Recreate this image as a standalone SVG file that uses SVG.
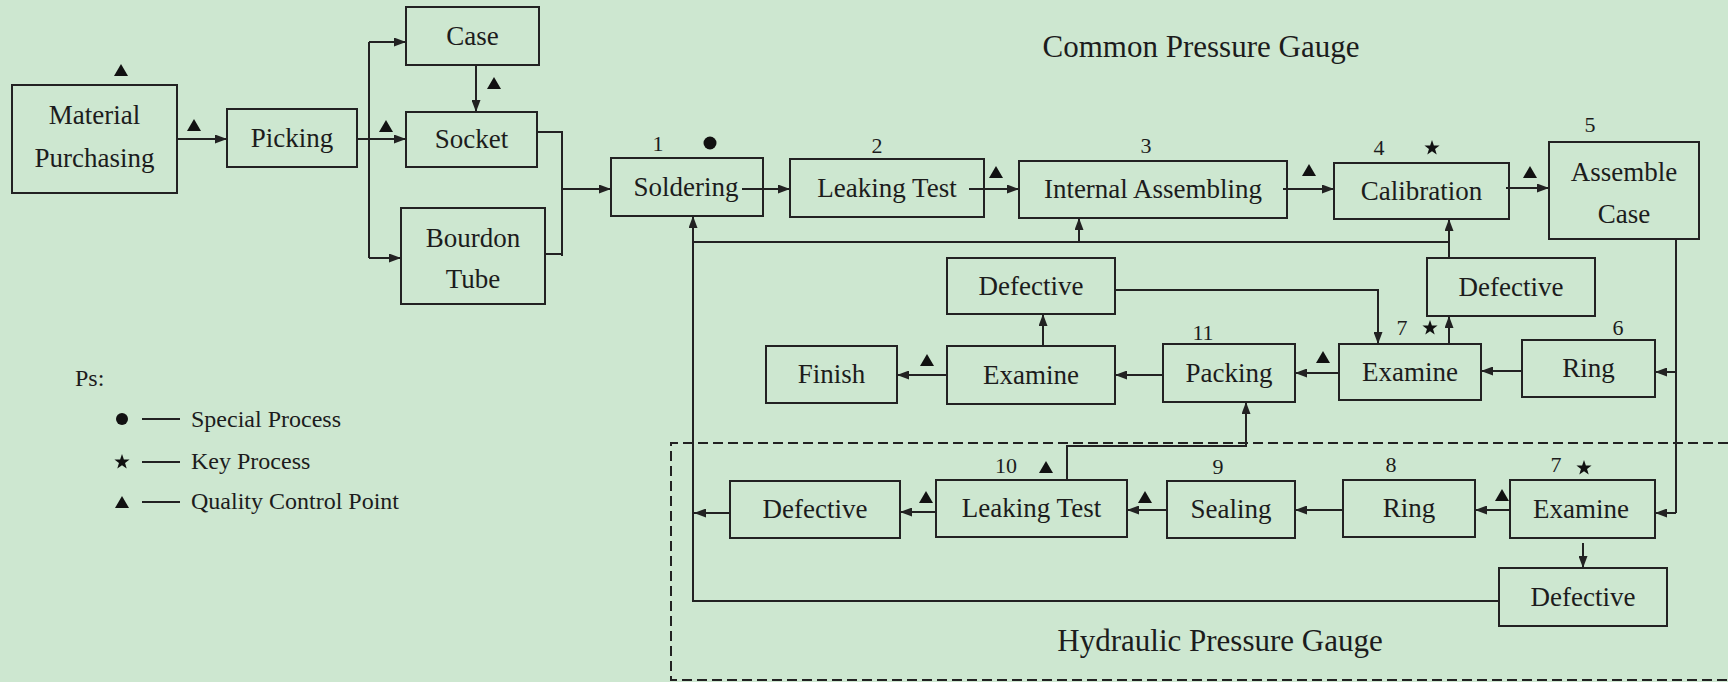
<svg xmlns="http://www.w3.org/2000/svg" xmlns:xlink="http://www.w3.org/1999/xlink" width="1728" height="682" viewBox="0 0 1728 682">
<style>
.bx{fill:none;stroke:#222;stroke-width:2}
.tx{font-family:"Liberation Serif","Times New Roman",serif;font-size:27px;fill:#1c1c1c;text-anchor:middle}
.nm{font-size:22px}
.lg{font-size:24px;text-anchor:start}
.ttl{font-size:31px}
.ln{fill:none;stroke:#222;stroke-width:2}
.ar{marker-end:url(#ah)}
.sym{fill:#111}
.dash{fill:none;stroke:#222;stroke-width:2;stroke-dasharray:10 5}
</style>
<defs>
<marker id="ah" viewBox="0 0 12 9" refX="12" refY="4.5" markerWidth="12" markerHeight="9" markerUnits="userSpaceOnUse" orient="auto"><path d="M0,0 L12,4.5 L0,9 z" fill="#222"/></marker>
<path id="tri" d="M0,-6 L7,6 L-7,6 z"/>
<path id="star" d="M0,-8 L1.88,-2.59 L7.61,-2.47 L3.04,0.99 L4.7,6.47 L0,3.2 L-4.7,6.47 L-3.04,0.99 L-7.61,-2.47 L-1.88,-2.59 Z"/>
</defs>
<rect width="1728" height="682" fill="#cde7d0"/>

<text class="tx ttl" x="1201" y="57">Common Pressure Gauge</text>
<text class="tx ttl" x="1220" y="651">Hydraulic Pressure Gauge</text>
<path class="dash" d="M1728,443 L671,443 L671,680 L1728,680"/>

<g id="legend">
<text class="tx lg" x="75" y="386">Ps:</text>
<circle class="sym" cx="122" cy="419" r="6"/>
<line class="ln" x1="142" y1="419" x2="180" y2="419" stroke-width="1.5"/>
<text class="tx lg" x="191" y="427">Special Process</text>
<use xlink:href="#star" class="sym" x="122" y="462"/>
<line class="ln" x1="142" y1="462" x2="180" y2="462" stroke-width="1.5"/>
<text class="tx lg" x="191" y="469">Key Process</text>
<use xlink:href="#tri" class="sym" x="122" y="502"/>
<line class="ln" x1="142" y1="502" x2="180" y2="502" stroke-width="1.5"/>
<text class="tx lg" x="191" y="509">Quality Control Point</text>
</g>

<g id="connectors">
<line class="ln ar" x1="177" y1="139" x2="227" y2="139"/>
<path class="ln" d="M357,139 H369 M369,42 V258"/>
<line class="ln ar" x1="369" y1="42" x2="406" y2="42"/>
<line class="ln ar" x1="369" y1="139" x2="406" y2="139"/>
<line class="ln ar" x1="369" y1="258" x2="401" y2="258"/>
<line class="ln ar" x1="476" y1="65" x2="476" y2="112"/>
<path class="ln" d="M537,132 H562 V256 M545,254 H562"/>
<line class="ln ar" x1="562" y1="189" x2="611" y2="189"/>
<line class="ln ar" x1="742" y1="189" x2="790" y2="189"/>
<line class="ln ar" x1="969" y1="189" x2="1019" y2="189"/>
<line class="ln ar" x1="1283" y1="189" x2="1334" y2="189"/>
<line class="ln ar" x1="1506" y1="188" x2="1549" y2="188"/>
<path class="ln" d="M1676,239 V513"/>
<line class="ln ar" x1="1676" y1="372" x2="1655" y2="372"/>
<line class="ln ar" x1="1676" y1="513" x2="1655" y2="513"/>
<line class="ln ar" x1="1522" y1="371" x2="1481" y2="371"/>
<line class="ln ar" x1="1339" y1="373" x2="1295" y2="373"/>
<line class="ln ar" x1="1163" y1="375" x2="1115" y2="375"/>
<line class="ln ar" x1="947" y1="375" x2="897" y2="375"/>
<line class="ln ar" x1="1043" y1="346" x2="1043" y2="314"/>
<path class="ln ar" d="M1115,290 H1378 V344"/>
<line class="ln ar" x1="1449" y1="344" x2="1449" y2="316"/>
<line class="ln ar" x1="1449" y1="258" x2="1449" y2="219"/>
<path class="ln" d="M1449,242 H693 V601 H1499"/>
<line class="ln ar" x1="1079" y1="242" x2="1079" y2="218"/>
<line class="ln ar" x1="693" y1="242" x2="693" y2="216"/>
<line class="ln ar" x1="730" y1="513" x2="694" y2="513"/>
<line class="ln ar" x1="936" y1="512" x2="900" y2="512"/>
<line class="ln ar" x1="1167" y1="510" x2="1127" y2="510"/>
<line class="ln ar" x1="1343" y1="510" x2="1295" y2="510"/>
<line class="ln ar" x1="1510" y1="510" x2="1475" y2="510"/>
<line class="ln ar" x1="1583" y1="543" x2="1583" y2="568"/>
<path class="ln ar" d="M1067,480 V446 H1246 V402"/>
</g>

<g id="marks">
<use xlink:href="#tri" class="sym" x="121" y="70"/>
<use xlink:href="#tri" class="sym" x="194" y="125"/>
<use xlink:href="#tri" class="sym" x="386" y="126"/>
<use xlink:href="#tri" class="sym" x="494" y="83"/>
<circle class="sym" cx="710" cy="143" r="6.5"/>
<use xlink:href="#tri" class="sym" x="996" y="172"/>
<use xlink:href="#tri" class="sym" x="1309" y="170"/>
<use xlink:href="#star" class="sym" x="1432" y="148"/>
<use xlink:href="#tri" class="sym" x="1530" y="172"/>
<use xlink:href="#star" class="sym" x="1430" y="328"/>
<use xlink:href="#tri" class="sym" x="1323" y="357"/>
<use xlink:href="#tri" class="sym" x="927" y="360"/>
<use xlink:href="#tri" class="sym" x="1046" y="467"/>
<use xlink:href="#tri" class="sym" x="926" y="497"/>
<use xlink:href="#tri" class="sym" x="1145" y="497"/>
<use xlink:href="#tri" class="sym" x="1502" y="495"/>
<use xlink:href="#star" class="sym" x="1584" y="468"/>
</g>

<g id="labels">
<text class="tx nm" x="658" y="151">1</text>
<text class="tx nm" x="877" y="153">2</text>
<text class="tx nm" x="1146" y="153">3</text>
<text class="tx nm" x="1379" y="155">4</text>
<text class="tx nm" x="1590" y="132">5</text>
<text class="tx nm" x="1402" y="335">7</text>
<text class="tx nm" x="1618" y="335">6</text>
<text class="tx nm" x="1203" y="340">11</text>
<text class="tx nm" x="1006" y="473">10</text>
<text class="tx nm" x="1218" y="474">9</text>
<text class="tx nm" x="1391" y="472">8</text>
<text class="tx nm" x="1556" y="472">7</text>
</g>

<g id="n-material"><rect class="bx" x="12" y="85" width="165" height="108"/><text class="tx" x="94.5" y="124">Material</text><text class="tx" x="94.5" y="167">Purchasing</text></g>
<g id="n-picking"><rect class="bx" x="227" y="109" width="130" height="58"/><text class="tx" x="292" y="147">Picking</text></g>
<g id="n-case"><rect class="bx" x="406" y="7" width="133" height="58"/><text class="tx" x="472.5" y="45">Case</text></g>
<g id="n-socket"><rect class="bx" x="406" y="112" width="131" height="55"/><text class="tx" x="471.5" y="148">Socket</text></g>
<g id="n-bourdon"><rect class="bx" x="401" y="208" width="144" height="96"/><text class="tx" x="473" y="247">Bourdon</text><text class="tx" x="473" y="288">Tube</text></g>
<g id="n-soldering"><rect class="bx" x="611" y="158" width="152" height="58"/><text class="tx" x="686" y="196">Soldering</text></g>
<g id="n-leaking"><rect class="bx" x="790" y="159" width="194" height="58"/><text class="tx" x="887" y="197">Leaking Test</text></g>
<g id="n-internal"><rect class="bx" x="1019" y="161" width="268" height="57"/><text class="tx" x="1153" y="198">Internal Assembling</text></g>
<g id="n-calibration"><rect class="bx" x="1334" y="163" width="175" height="56"/><text class="tx" x="1421.5" y="200">Calibration</text></g>
<g id="n-assemble"><rect class="bx" x="1549" y="142" width="150" height="97"/><text class="tx" x="1624" y="181">Assemble</text><text class="tx" x="1624" y="223">Case</text></g>
<g id="n-defective-ul"><rect class="bx" x="947" y="258" width="168" height="56"/><text class="tx" x="1031" y="295">Defective</text></g>
<g id="n-defective-r"><rect class="bx" x="1427" y="258" width="168" height="58"/><text class="tx" x="1511" y="296">Defective</text></g>
<g id="n-examine7"><rect class="bx" x="1339" y="344" width="142" height="56"/><text class="tx" x="1410" y="381">Examine</text></g>
<g id="n-ring6"><rect class="bx" x="1522" y="340" width="133" height="57"/><text class="tx" x="1588.5" y="377">Ring</text></g>
<g id="n-packing"><rect class="bx" x="1163" y="344" width="132" height="58"/><text class="tx" x="1229" y="382">Packing</text></g>
<g id="n-examine"><rect class="bx" x="947" y="346" width="168" height="58"/><text class="tx" x="1031" y="384">Examine</text></g>
<g id="n-finish"><rect class="bx" x="766" y="346" width="131" height="57"/><text class="tx" x="831.5" y="383">Finish</text></g>
<g id="n-examine-h"><rect class="bx" x="1510" y="480" width="145" height="58"/><text class="tx" x="1581" y="518">Examine</text></g>
<g id="n-ring8"><rect class="bx" x="1343" y="480" width="132" height="57"/><text class="tx" x="1409" y="517">Ring</text></g>
<g id="n-sealing"><rect class="bx" x="1167" y="481" width="128" height="57"/><text class="tx" x="1231" y="518">Sealing</text></g>
<g id="n-leaking10"><rect class="bx" x="936" y="480" width="191" height="57"/><text class="tx" x="1031.5" y="517">Leaking Test</text></g>
<g id="n-defective-hl"><rect class="bx" x="730" y="481" width="170" height="57"/><text class="tx" x="815" y="518">Defective</text></g>
<g id="n-defective-hb"><rect class="bx" x="1499" y="568" width="168" height="58"/><text class="tx" x="1583" y="606">Defective</text></g>
</svg>
